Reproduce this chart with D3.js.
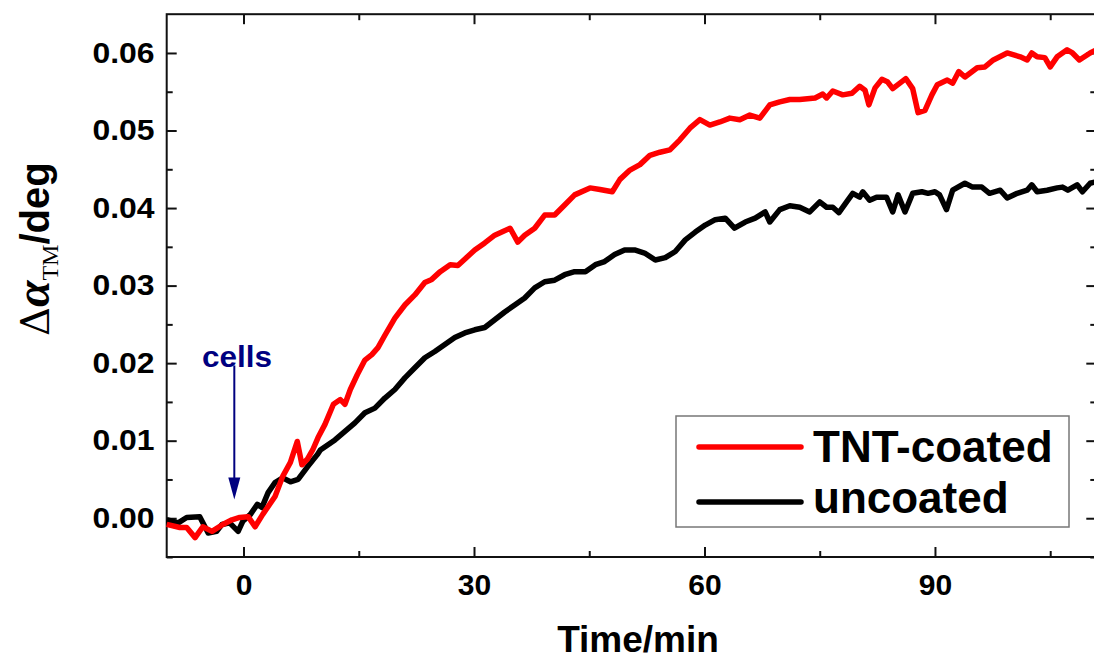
<!DOCTYPE html>
<meta charset="utf-8">
<script src="https://d3js.org/d3.v7.min.js"></script>
<style>
  body { margin: 0; background: #fff; }
  svg { display: block; }
  .tick text { font-family: "Liberation Sans", Arial, sans-serif; font-weight: bold; fill: #000; }
</style>
<body>
<div id="chart"></div>
<script>
// time axis (min) and readings of the two traces
var tntTime = [-10, -8.3, -7.4, -6.3, -5.3, -4.1, -2.7, -1.5, -0.5, 0.6, 1.5, 2.5, 4.1, 5.1, 6.1, 7.0, 7.6, 8.3, 9.0, 9.7,
  10.6, 11.7, 12.6, 13.2, 13.9, 14.8, 15.8, 16.7, 17.5, 18.4, 19.7, 21.0, 22.3, 23.6, 24.5, 25.6, 26.9, 27.9, 29.0, 30.1,
  31.4, 32.7, 34.7, 35.7, 36.6, 37.9, 39.2, 40.5, 41.8, 43.1, 45.1, 46.4, 48.0, 49.0, 50.3, 51.6, 52.9, 54.2, 55.5, 56.8,
  58.1, 59.4, 60.7, 62.0, 63.3, 64.6, 65.9, 67.2, 68.5, 69.8, 71.1, 72.4, 74.4, 75.4, 75.9, 76.7, 78.0, 79.2, 80.2, 80.9,
  81.4, 82.2, 83.1, 83.8, 84.5, 86.2, 87.1, 87.8, 88.7, 89.6, 90.3, 91.6, 92.3, 93.1, 93.9, 95.5, 96.5, 97.6, 99.4, 101.1,
  102.0, 102.6, 103.3, 104.3, 105.0, 105.9, 107.2, 107.9, 108.8, 110.2, 111];
var tntValues = [-0.0008, -0.0012, -0.0012, -0.0025, -0.0011, -0.0017, -0.0008, -0.0002, 0.0001, 0.0002, -0.0011, 0.0005, 0.0028, 0.0054, 0.0072, 0.0099, 0.0069, 0.0076, 0.0088, 0.0104,
  0.0121, 0.0147, 0.0153, 0.0147, 0.0166, 0.0185, 0.0204, 0.0211, 0.0220, 0.0236, 0.0258, 0.0275, 0.0288, 0.0304, 0.0308, 0.0318, 0.0327, 0.0326, 0.0336, 0.0346,
  0.0355, 0.0365, 0.0374, 0.0356, 0.0365, 0.0374, 0.0391, 0.0391, 0.0404, 0.0417, 0.0426, 0.0424, 0.0421, 0.0437, 0.0449, 0.0456, 0.0468, 0.0472, 0.0475, 0.0488,
  0.0503, 0.0514, 0.0507, 0.0511, 0.0516, 0.0514, 0.0520, 0.0516, 0.0533, 0.0537, 0.0540, 0.0540, 0.0542, 0.0547, 0.0542, 0.0551, 0.0546, 0.0548, 0.0557, 0.0552,
  0.0533, 0.0555, 0.0566, 0.0563, 0.0554, 0.0567, 0.0554, 0.0523, 0.0526, 0.0546, 0.0559, 0.0565, 0.0561, 0.0576, 0.0569, 0.0581, 0.0582, 0.0591, 0.0600, 0.0595,
  0.0591, 0.0600, 0.0595, 0.0594, 0.0582, 0.0595, 0.0604, 0.0600, 0.0591, 0.0600, 0.0604];

var unTime = [-10, -8.5, -7.4, -5.7, -4.6, -3.5, -2.8, -1.8, -0.7, -0.1, 0.9, 1.8, 2.4, 3.2, 4.1, 5.1, 6.1, 7.1, 8.3, 9.6,
  10.0, 11.9, 13.2, 14.5, 15.8, 17.1, 18.4, 19.7, 21.0, 22.3, 23.6, 24.9, 26.2, 27.5, 28.8, 30.1, 31.4, 32.7, 34.0, 35.3,
  36.6, 37.9, 39.2, 40.5, 41.8, 43.1, 44.5, 45.8, 47.0, 48.3, 49.6, 50.9, 52.2, 53.6, 54.9, 56.2, 57.5, 58.8, 60.1, 61.4,
  62.7, 63.9, 65.3, 66.6, 67.9, 68.5, 69.8, 71.1, 72.4, 73.7, 75.0, 75.9, 76.7, 77.5, 78.5, 79.3, 80.2, 80.6, 81.5, 82.4,
  83.7, 84.5, 85.2, 86.1, 87.1, 88.3, 89.1, 90.0, 90.6, 91.5, 92.3, 93.9, 94.9, 96.1, 97.1, 98.5, 99.4, 100.7, 102.0, 102.6,
  103.3, 104.6, 105.9, 106.6, 107.3, 108.5, 109.2, 110.2, 111];
var unValues = [-0.0002, -0.0006, 0.0001, 0.0002, -0.0019, -0.0017, -0.0008, -0.0006, -0.0017, -0.0004, 0.0005, 0.0018, 0.0014, 0.0033, 0.0046, 0.0052, 0.0047, 0.0050, 0.0066, 0.0082,
  0.0088, 0.0101, 0.0112, 0.0123, 0.0136, 0.0142, 0.0155, 0.0166, 0.0181, 0.0194, 0.0207, 0.0215, 0.0224, 0.0233, 0.0239, 0.0243, 0.0246, 0.0256, 0.0266, 0.0275,
  0.0284, 0.0297, 0.0305, 0.0307, 0.0314, 0.0318, 0.0318, 0.0327, 0.0331, 0.0340, 0.0346, 0.0346, 0.0342, 0.0333, 0.0336, 0.0344, 0.0359, 0.0369, 0.0378, 0.0385,
  0.0387, 0.0374, 0.0382, 0.0387, 0.0395, 0.0382, 0.0398, 0.0403, 0.0401, 0.0395, 0.0408, 0.0401, 0.0401, 0.0394, 0.0408, 0.0419, 0.0414, 0.0421, 0.0410, 0.0414,
  0.0414, 0.0395, 0.0417, 0.0395, 0.0419, 0.0421, 0.0419, 0.0421, 0.0417, 0.0398, 0.0423, 0.0432, 0.0427, 0.0427, 0.0419, 0.0423, 0.0413, 0.0419, 0.0423, 0.0430,
  0.0421, 0.0423, 0.0426, 0.0427, 0.0423, 0.0430, 0.0421, 0.0432, 0.0434];

var xMajor = [0, 30, 60, 90];
var xMinor = [15, 45, 75, 105];
var yMajor = [0, 0.01, 0.02, 0.03, 0.04, 0.05, 0.06];
var yMinor = [-0.005, 0.005, 0.015, 0.025, 0.035, 0.045, 0.055];
var seriesNames = ["TNT-coated", "uncoated"];
var seriesColors = ["#ff0000", "#000000"];
var cellsMark = {t: -1.2, from: 0.0197, to: 0.0024};

var W = 1094, H = 659;
var svg = d3.select("#chart").append("svg").attr("width", W).attr("height", H);

var x = d3.scaleLinear().domain([-10, 111]).range([166.7, 1096.3]);
var y = d3.scaleLinear().domain([-0.005, 0.065]).range([557, 14.2]);

// frame
svg.append("rect")
  .attr("x", x(-10)).attr("y", y(0.065))
  .attr("width", x(111) - x(-10)).attr("height", y(-0.005) - y(0.065))
  .attr("fill", "none").attr("stroke", "#111").attr("stroke-width", 2);

function styleAxis(g) {
  g.select(".domain").remove();
  g.selectAll(".tick line").attr("stroke", "#111").attr("stroke-width", 2);
}

// bottom
svg.append("g").attr("transform", "translate(0," + y(-0.005) + ")")
  .call(d3.axisBottom(x).tickValues(xMajor).tickSize(-10).tickPadding(17).tickFormat(d3.format("d")))
  .call(styleAxis)
  .selectAll("text").style("font-size", "30px");
svg.append("g").attr("transform", "translate(0," + y(-0.005) + ")")
  .call(d3.axisBottom(x).tickValues(xMinor).tickSize(-6).tickFormat(""))
  .call(styleAxis);
// top
svg.append("g").attr("transform", "translate(0," + y(0.065) + ")")
  .call(d3.axisTop(x).tickValues(xMajor).tickSize(-10).tickFormat(""))
  .call(styleAxis);
svg.append("g").attr("transform", "translate(0," + y(0.065) + ")")
  .call(d3.axisTop(x).tickValues(xMinor).tickSize(-6).tickFormat(""))
  .call(styleAxis);
// left
svg.append("g").attr("transform", "translate(" + x(-10) + ",0)")
  .call(d3.axisLeft(y).tickValues(yMajor).tickSize(-10).tickPadding(11).tickFormat(d3.format(".2f")))
  .call(styleAxis)
  .selectAll("text").style("font-size", "29px")
  .attr("transform", "scale(1.1,1)");
svg.append("g").attr("transform", "translate(" + x(-10) + ",0)")
  .call(d3.axisLeft(y).tickValues(yMinor).tickSize(-6).tickFormat(""))
  .call(styleAxis);
// right
svg.append("g").attr("transform", "translate(" + x(111) + ",0)")
  .call(d3.axisRight(y).tickValues(yMajor).tickSize(-10).tickFormat(""))
  .call(styleAxis);
svg.append("g").attr("transform", "translate(" + x(111) + ",0)")
  .call(d3.axisRight(y).tickValues(yMinor).tickSize(-6).tickFormat(""))
  .call(styleAxis);

// traces
var line = d3.line().x(function(d) { return x(d[0]); }).y(function(d) { return y(d[1]); });
var plot = svg.append("g");
plot.append("path")
  .datum(d3.zip(unTime, unValues))
  .attr("d", line).attr("fill", "none")
  .attr("stroke", seriesColors[1]).attr("stroke-width", 5.5).attr("stroke-linejoin", "round");
plot.append("path")
  .datum(d3.zip(tntTime, tntValues))
  .attr("d", line).attr("fill", "none")
  .attr("stroke", seriesColors[0]).attr("stroke-width", 5.5).attr("stroke-linejoin", "round");

// cells arrow
var ax = x(cellsMark.t);
svg.append("line")
  .attr("x1", ax).attr("x2", ax)
  .attr("y1", y(cellsMark.from)).attr("y2", y(cellsMark.to) - 20)
  .attr("stroke", "#000080").attr("stroke-width", 2);
svg.append("path")
  .attr("d", "M" + (ax - 6) + "," + (y(cellsMark.to) - 22) + " L" + (ax + 6) + "," + (y(cellsMark.to) - 22) + " L" + ax + "," + y(cellsMark.to) + "Z")
  .attr("fill", "#000080");
svg.append("text")
  .attr("x", 202).attr("y", 367)
  .attr("textLength", 70).attr("lengthAdjust", "spacingAndGlyphs")
  .style("font-family", "Liberation Sans, Arial, sans-serif")
  .style("font-weight", "bold").style("font-size", "29px")
  .attr("fill", "#000080")
  .text("cells");

// legend
var leg = svg.append("g");
leg.append("rect")
  .attr("x", 676).attr("y", 416).attr("width", 393).attr("height", 111)
  .attr("fill", "#fff").attr("stroke", "#777").attr("stroke-width", 1.5);
seriesNames.forEach(function(name, i) {
  var ly = i == 0 ? 447 : 502;
  leg.append("line")
    .attr("x1", 699).attr("x2", 801).attr("y1", ly).attr("y2", ly)
    .attr("stroke", seriesColors[i]).attr("stroke-width", 5.5).attr("stroke-linecap", "round");
  leg.append("text")
    .attr("x", 813).attr("y", i == 0 ? 462 : 513)
    .style("font-family", "Liberation Sans, Arial, sans-serif")
    .style("font-weight", "bold").style("font-size", "44px")
    .text(name);
});

// axis titles
svg.append("text")
  .attr("x", 638).attr("y", 652)
  .attr("text-anchor", "middle")
  .style("font-family", "Liberation Sans, Arial, sans-serif")
  .style("font-weight", "bold").style("font-size", "37px")
  .text("Time/min");

var yt = svg.append("text")
  .attr("transform", "translate(49,336) rotate(-90)");
yt.append("tspan")
  .style("font-family", "DejaVu Serif, Liberation Serif, serif")
  .style("font-size", "40px")
  .text("\u0394");
yt.append("tspan")
  .style("font-family", "Liberation Serif, Times New Roman, serif")
  .style("font-weight", "bold").style("font-style", "italic").style("font-size", "48px")
  .text("\u03b1");
yt.append("tspan")
  .attr("dy", 9)
  .style("font-family", "Liberation Serif, Times New Roman, serif")
  .style("font-size", "24px")
  .text("TM");
yt.append("tspan")
  .attr("dy", -9)
  .style("font-family", "Liberation Sans, Arial, sans-serif")
  .style("font-weight", "bold").style("font-size", "40px")
  .text("/deg");
</script>
</body>
